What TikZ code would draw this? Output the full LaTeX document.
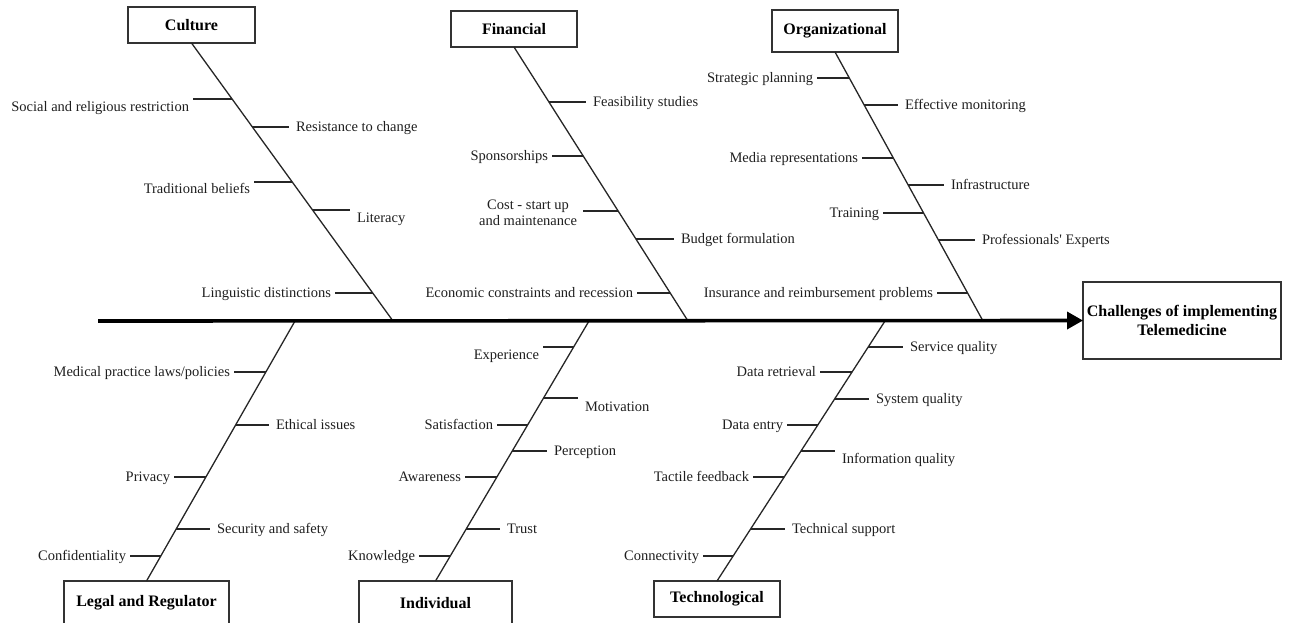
\documentclass[tikz,border=0pt]{standalone}
\usepackage{fontspec}
\setmainfont{Liberation Serif}
\usetikzlibrary{calc,arrows.meta}
\tikzset{
  lbl/.style={font=\fontsize{14.5}{16}\selectfont, text=black!88, inner ysep=1pt, outer sep=0pt, yshift=-2.5pt},
  lbleast/.style={lbl, inner xsep=4pt},
  lblwest/.style={lbl, inner xsep=7pt},
  catbox/.style={draw=black!80, line width=1.3pt, fill=white, text=black,
    font=\fontsize{16}{19}\selectfont\bfseries, inner sep=0pt, outer sep=0pt, align=center},
  bone/.style={draw=black!85, line width=1.3pt},
  twig/.style={draw=black!85, line width=1.3pt},
  spine/.style={draw=black, line width=3.6pt, -{Triangle[length=16pt,width=17pt]}},
}
% #1 name, #2 bone start, #3 bone end, #4 fraction, #5 side, #6 line end x, #7 text y, #8 text
\newcommand{\leaf}[8]{%
  \coordinate (#1b) at ($(#2)!{#4}!(#3)$);
  \node[lbl#5, anchor=mid #5] (#1) at (#6,#7) {#8};
  \draw[twig] (#1b) -- (#1.mid #5 |- #1b);
}
\begin{document}
\begin{tikzpicture}[x=1pt,y=-1pt]
\useasboundingbox (0,0) rectangle (1290,622);
\clip (0,0) rectangle (1290,622);

% category boxes
\node[catbox, minimum width=127pt, minimum height=36pt] (culture) at (191.5,25) {Culture};
\node[catbox, minimum width=126pt, minimum height=36pt] (financial) at (514,29) {Financial};
\node[catbox, minimum width=126pt, minimum height=42pt] (org) at (835,31) {Organizational};
\node[catbox, minimum width=165pt, minimum height=44pt] (legal) at (146.5,603) {Legal and Regulator};
\node[catbox, minimum width=153pt, minimum height=44pt] (indiv) at (435.5,603) {Individual};
\node[catbox, minimum width=126pt, minimum height=36pt] (tech) at (717,599) {Technological};
\node[catbox, minimum width=198pt, minimum height=77pt] (effect) at (1182,320.5) {Challenges of implementing\\Telemedicine};

% spine points
\coordinate (tail) at (98,321);
\coordinate (cS) at (393,321);
\coordinate (fS) at (688,321);
\coordinate (oS) at (983,321);
\coordinate (lS) at (295,321);
\coordinate (iS) at (589,321);
\coordinate (tS) at (885,321);

% bones
\draw[bone] (culture.south) -- (cS);
\draw[bone] (financial.south) -- (fS);
\draw[bone] (org.south) -- (oS);
\draw[bone] (lS) -- (legal.north);
\draw[bone] (iS) -- (indiv.north);
\draw[bone] (tS) -- (tech.north);

% Culture
\leaf{c1}{culture.south}{cS}{(99-43)/278}{east}{193}{107}{Social and religious restriction}
\leaf{c2}{culture.south}{cS}{(127-43)/278}{west}{289}{127}{Resistance to change}
\leaf{c3}{culture.south}{cS}{(182-43)/278}{east}{254}{189}{Traditional beliefs}
\leaf{c4}{culture.south}{cS}{(210-43)/278}{west}{350}{218}{Literacy}
\leaf{c5}{culture.south}{cS}{(293-43)/278}{east}{335}{293}{Linguistic distinctions}

% Financial
\leaf{f1}{financial.south}{fS}{(102-47)/274}{west}{586}{102}{Feasibility studies}
\leaf{f2}{financial.south}{fS}{(156-47)/274}{east}{552}{156}{Sponsorships}
\coordinate (f3b) at ($(financial.south)!{(211-47)/274}!(fS)$);
\node[lbl, yshift=2.5pt, inner xsep=6pt, anchor=east, align=center] (f3) at (583,213) {Cost - start up\\and maintenance};
\draw[twig] (f3b) -- (f3.east |- f3b);
\leaf{f4}{financial.south}{fS}{(239-47)/274}{west}{674}{239}{Budget formulation}
\leaf{f5}{financial.south}{fS}{(293-47)/274}{east}{637}{293}{Economic constraints and recession}

% Organizational
\leaf{o1}{org.south}{oS}{(78-52)/269}{east}{817}{78}{Strategic planning}
\leaf{o2}{org.south}{oS}{(105-52)/269}{west}{898}{105}{Effective monitoring}
\leaf{o3}{org.south}{oS}{(158-52)/269}{east}{862}{158}{Media representations}
\leaf{o4}{org.south}{oS}{(185-52)/269}{west}{944}{185}{Infrastructure}
\leaf{o5}{org.south}{oS}{(213-52)/269}{east}{883}{213}{Training}
\leaf{o6}{org.south}{oS}{(240-52)/269}{west}{975}{240}{Professionals\textquotesingle{} Experts}
\leaf{o7}{org.south}{oS}{(293-52)/269}{east}{937}{293}{Insurance and reimbursement problems}

% Legal and Regulator
\leaf{l1}{lS}{legal.north}{(372-321)/260}{east}{234}{372}{Medical practice laws/policies}
\leaf{l2}{lS}{legal.north}{(425-321)/260}{west}{269}{425}{Ethical issues}
\leaf{l3}{lS}{legal.north}{(477-321)/260}{east}{174}{477}{Privacy}
\leaf{l4}{lS}{legal.north}{(529-321)/260}{west}{210}{529}{Security and safety}
\leaf{l5}{lS}{legal.north}{(556-321)/260}{east}{130}{556}{Confidentiality}

% Individual
\leaf{i1}{iS}{indiv.north}{(347-321)/260}{east}{543}{355}{Experience}
\leaf{i2}{iS}{indiv.north}{(398-321)/260}{west}{578}{407}{Motivation}
\leaf{i3}{iS}{indiv.north}{(425-321)/260}{east}{497}{425}{Satisfaction}
\leaf{i4}{iS}{indiv.north}{(451-321)/260}{west}{547}{451}{Perception}
\leaf{i5}{iS}{indiv.north}{(477-321)/260}{east}{465}{477}{Awareness}
\leaf{i6}{iS}{indiv.north}{(529-321)/260}{west}{500}{529}{Trust}
\leaf{i7}{iS}{indiv.north}{(556-321)/260}{east}{419}{556}{Knowledge}

% Technological
\leaf{t1}{tS}{tech.north}{(347-321)/260}{west}{903}{347}{Service quality}
\leaf{t2}{tS}{tech.north}{(372-321)/260}{east}{820}{372}{Data retrieval}
\leaf{t3}{tS}{tech.north}{(399-321)/260}{west}{869}{399}{System quality}
\leaf{t4}{tS}{tech.north}{(425-321)/260}{east}{787}{425}{Data entry}
\leaf{t5}{tS}{tech.north}{(451-321)/260}{west}{835}{459}{Information quality}
\leaf{t6}{tS}{tech.north}{(477-321)/260}{east}{753}{477}{Tactile feedback}
\leaf{t7}{tS}{tech.north}{(529-321)/260}{west}{785}{529}{Technical support}
\leaf{t8}{tS}{tech.north}{(556-321)/260}{east}{703}{556}{Connectivity}

% spine
\draw[spine] (tail) -- (effect.west);
\end{tikzpicture}
\end{document}
